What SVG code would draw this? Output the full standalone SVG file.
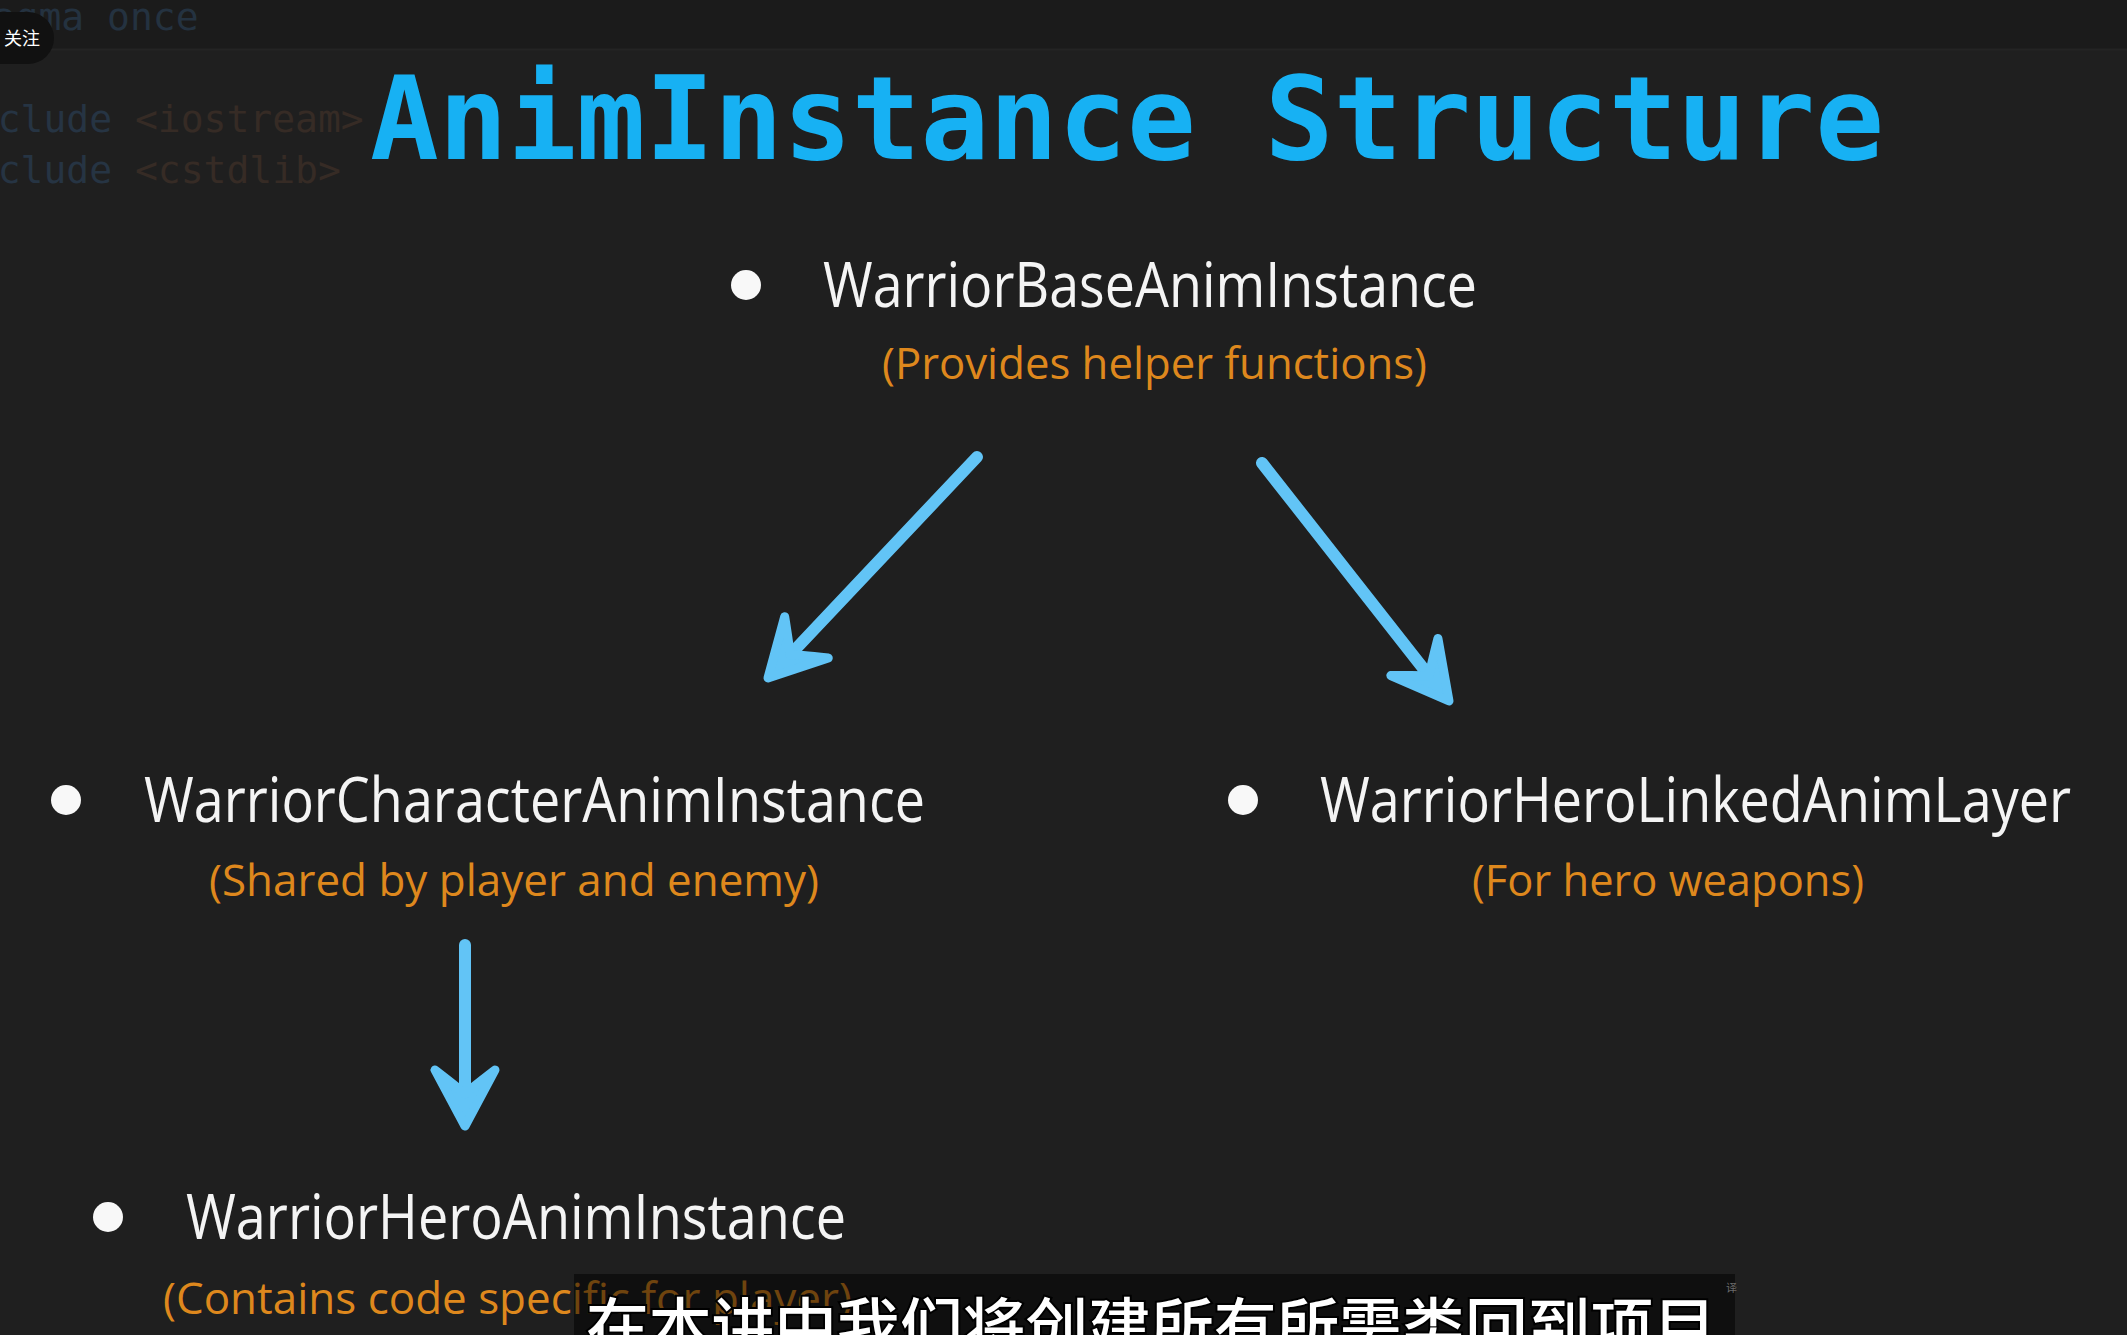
<svg xmlns="http://www.w3.org/2000/svg" width="2127" height="1335" viewBox="0 0 2127 1335">
<defs>
<style>
.bg{fill:#1f1f1f}
.code{font-family:"DejaVu Sans Mono","Liberation Mono",monospace;font-size:38px}
.title{font-family:"DejaVu Sans Mono","Liberation Mono",monospace;font-weight:bold;font-size:116px;fill:#17b1f3}
.main{font-family:"Open Sans","Noto Sans",sans-serif;font-size:62px;fill:#f4f4f4}
.sub{font-family:"Open Sans","Noto Sans",sans-serif;font-size:44px;fill:#de881d}
.dot{fill:#f8f8f8}
.shaft{stroke:#62c4f6;stroke-width:12;stroke-linecap:round;fill:none}
.head{fill:#62c4f6;stroke:#62c4f6;stroke-width:9;stroke-linejoin:round}
.cjk{font-family:"Noto Sans CJK SC",sans-serif;font-weight:500;font-size:62px;fill:#ffffff;stroke:#000;stroke-width:4;paint-order:stroke}
</style>
<path id="ah" d="M0,0 L-56,-30 Q-36,-4 -32,0 Q-36,4 -56,30 Z"/>
</defs>
<rect class="bg" x="0" y="0" width="2127" height="1335"/>
<rect x="0" y="0" width="2127" height="49" fill="#1b1b1b"/>
<line x1="0" y1="49.5" x2="2127" y2="49.5" stroke="#242424" stroke-width="2"/>

<g id="background-code">
<text class="code" x="-76" y="30" fill="#243240">#pragma once</text>
<text class="code" x="-71" y="132"><tspan fill="#263443">#include</tspan><tspan fill="#362b25"> &lt;iostream&gt;</tspan></text>
<text class="code" x="-71" y="183"><tspan fill="#263443">#include</tspan><tspan fill="#362b25"> &lt;cstdlib&gt;</tspan></text>
</g>

<g id="follow-button">
<rect x="-30" y="12" width="84" height="52" rx="26" fill="#111111"/>
<text x="4" y="45" font-family="Noto Sans CJK SC,sans-serif" font-size="18" fill="#ffffff">关注</text>
</g>

<g id="title">
<text class="title" x="370" y="159" textLength="1514" lengthAdjust="spacingAndGlyphs">AnimInstance Structure</text>
</g>

<g id="connectors">
<line class="shaft" x1="977" y1="457" x2="790" y2="655"/>
<use href="#ah" class="head" transform="translate(768,678) rotate(133.4)"/>
<line class="shaft" x1="1262" y1="463" x2="1430" y2="677"/>
<use href="#ah" class="head" transform="translate(1449,701) rotate(51.8)"/>
<line class="shaft" x1="465" y1="945" x2="465" y2="1096"/>
<use href="#ah" class="head" transform="translate(465,1126) rotate(90)"/>
</g>

<g id="node-base">
<circle class="dot" cx="746" cy="285" r="15"/>
<text class="main" x="823" y="307" textLength="654" lengthAdjust="spacingAndGlyphs">WarriorBaseAnimInstance</text>
<text class="sub" x="882" y="379" textLength="545" lengthAdjust="spacingAndGlyphs">(Provides helper functions)</text>
</g>

<g id="node-character">
<circle class="dot" cx="66" cy="800" r="15"/>
<text class="main" x="144" y="822" textLength="781" lengthAdjust="spacingAndGlyphs">WarriorCharacterAnimInstance</text>
<text class="sub" x="209" y="896" textLength="610" lengthAdjust="spacingAndGlyphs">(Shared by player and enemy)</text>
</g>

<g id="node-linked">
<circle class="dot" cx="1243" cy="800" r="15"/>
<text class="main" x="1320" y="822" textLength="751" lengthAdjust="spacingAndGlyphs">WarriorHeroLinkedAnimLayer</text>
<text class="sub" x="1472" y="896" textLength="392" lengthAdjust="spacingAndGlyphs">(For hero weapons)</text>
</g>

<g id="node-hero">
<circle class="dot" cx="108" cy="1217" r="15"/>
<text class="main" x="186" y="1239" textLength="660" lengthAdjust="spacingAndGlyphs">WarriorHeroAnimInstance</text>
<text class="sub" x="163" y="1314" textLength="689" lengthAdjust="spacingAndGlyphs">(Contains code specific for player)</text>
</g>

<g id="subtitle-overlay">
<rect x="574" y="1274" width="1161" height="70" fill="#000000" fill-opacity="0.5"/>
<text x="1726" y="1292" font-family="Noto Sans CJK SC,sans-serif" font-size="11" fill="#6a6a6a">译</text>
<text class="cjk" x="586" y="1350" textLength="1130" lengthAdjust="spacingAndGlyphs">在本讲中我们将创建所有所需类回到项目</text>
</g>
</svg>
